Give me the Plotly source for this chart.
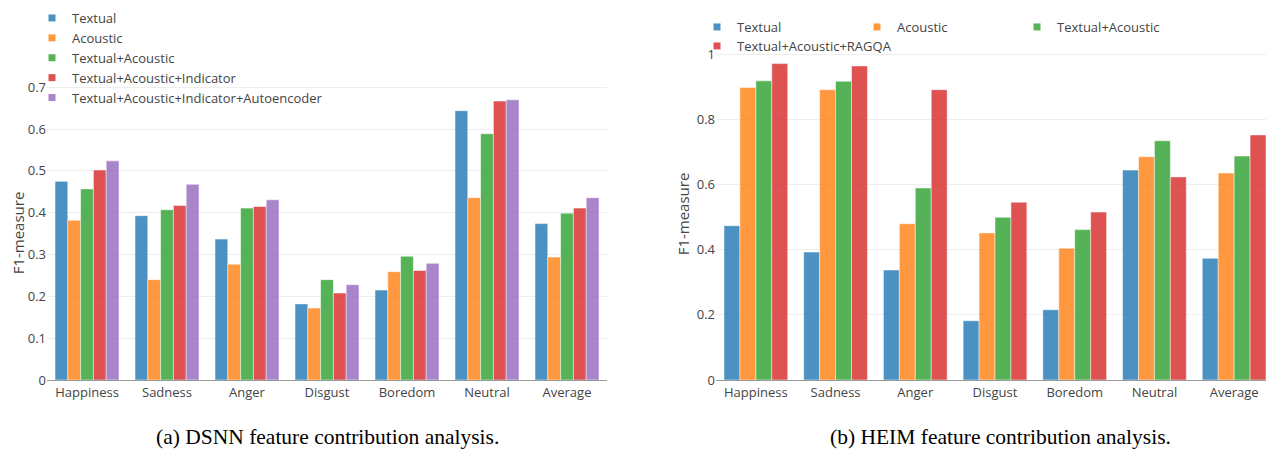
import plotly.graph_objects as go

categories = ["Happiness", "Sadness", "Anger", "Disgust", "Boredom", "Neutral", "Average"]

# Left chart (a) DSNN
dsnn_textual = [0.475, 0.393, 0.337, 0.182, 0.215, 0.644, 0.374]
dsnn_acoustic = [0.382, 0.240, 0.277, 0.172, 0.259, 0.436, 0.294]
dsnn_text_ac = [0.457, 0.407, 0.411, 0.240, 0.296, 0.589, 0.399]
dsnn_text_ac_ind = [0.502, 0.417, 0.415, 0.208, 0.262, 0.667, 0.411]
dsnn_text_ac_ind_ae = [0.524, 0.468, 0.431, 0.228, 0.279, 0.670, 0.436]

# Right chart (b) HEIM
heim_textual = [0.474, 0.393, 0.338, 0.182, 0.216, 0.645, 0.374]
heim_acoustic = [0.899, 0.892, 0.480, 0.452, 0.405, 0.686, 0.636]
heim_text_ac = [0.919, 0.918, 0.590, 0.500, 0.462, 0.735, 0.688]
heim_text_ac_ragqa = [0.972, 0.965, 0.892, 0.546, 0.516, 0.624, 0.753]

left_names = ["Textual", "Acoustic", "Textual+Acoustic", "Textual+Acoustic+Indicator",
              "Textual+Acoustic+Indicator+Autoencoder"]
right_names = ["Textual", "Acoustic", "Textual+Acoustic", "Textual+Acoustic+RAGQA"]
colors = ["#1f77b4", "#ff7f0e", "#2ca02c", "#d62728", "#9467bd"]

# page body has an 8px margin; the figure is sized to fit the window
OFF = 8
W, H = 1274 - OFF, 453 - OFF
fig = go.Figure()

bar_line = dict(color="rgba(255,255,255,0.5)", width=1)

left_series = [dsnn_textual, dsnn_acoustic, dsnn_text_ac, dsnn_text_ac_ind, dsnn_text_ac_ind_ae]
for name, vals, c in zip(left_names, left_series, colors):
    fig.add_trace(go.Bar(x=categories, y=vals, name=name, showlegend=False,
                         marker=dict(color=c, opacity=0.8, line=bar_line),
                         xaxis="x", yaxis="y"))
    fig.add_trace(go.Scatter(x=[None], y=[None], mode="markers", name=name,
                             marker=dict(symbol="square", size=7, color=c, opacity=0.8),
                             xaxis="x", yaxis="y", legend="legend"))

right_series = [heim_textual, heim_acoustic, heim_text_ac, heim_text_ac_ragqa]
right_legends = ["legend2", "legend2", "legend2", "legend3"]
for name, vals, c, lg in zip(right_names, right_series, colors, right_legends):
    fig.add_trace(go.Bar(x=categories, y=vals, name=name, showlegend=False,
                         marker=dict(color=c, opacity=0.8, line=bar_line),
                         xaxis="x2", yaxis="y2"))
    fig.add_trace(go.Scatter(x=[None], y=[None], mode="markers", name=name,
                             marker=dict(symbol="square", size=7, color=c, opacity=0.8),
                             xaxis="x2", yaxis="y2", legend=lg))

font_col = "#444"
tickfont = dict(family="Open Sans", size=13, color=font_col)
legfont = dict(family="Open Sans", size=13, color=font_col)


def fx(p):
    return (p - OFF) / W


def fy(p):
    return (H - (p - OFF)) / H


fig.update_layout(
    width=W, height=H,
    margin=dict(l=0, r=0, t=0, b=0, autoexpand=False),
    paper_bgcolor="white", plot_bgcolor="white",
    barmode="group", bargap=0.2, bargroupgap=0,
    font=dict(family="Open Sans", color=font_col, size=13),
    xaxis=dict(domain=[fx(47), fx(607)], anchor="y", showline=True, linecolor="#999",
               linewidth=1, tickfont=tickfont, showgrid=False, ticks="", automargin=False),
    yaxis=dict(domain=[fy(380), fy(86)], anchor="x", range=[0, 0.703], dtick=0.1,
               tickfont=tickfont, gridcolor="#eee", zeroline=False, automargin=True,
               title=dict(text="F1-measure", standoff=5,
                          font=dict(family="Open Sans", size=15, color=font_col))),
    xaxis2=dict(domain=[fx(716), 1.0], anchor="y2", showline=True, linecolor="#999",
                linewidth=1, tickfont=tickfont, showgrid=False, ticks="", automargin=False),
    yaxis2=dict(domain=[fy(380), fy(48)], anchor="x2", range=[0, 1.02], dtick=0.2,
                tickfont=tickfont, gridcolor="#eee", zeroline=False, automargin=True,
                title=dict(text="F1-measure", standoff=3,
                           font=dict(family="Open Sans", size=15, color=font_col))),
    legend=dict(x=fx(32), xanchor="left", y=fy(3), yanchor="top", orientation="v",
                font=legfont, bgcolor="rgba(0,0,0,0)", tracegroupgap=0),
    legend2=dict(x=fx(697), xanchor="left", y=fy(12), yanchor="top", orientation="h",
                 font=legfont, bgcolor="rgba(0,0,0,0)",
                 entrywidth=115, entrywidthmode="pixels"),
    legend3=dict(x=fx(697), xanchor="left", y=fy(31), yanchor="top", orientation="h",
                 font=legfont, bgcolor="rgba(0,0,0,0)"),
    annotations=[
        dict(text="(a) DSNN feature contribution analysis.", x=fx(327), y=fy(437),
             xref="paper", yref="paper", showarrow=False, xanchor="center", yanchor="middle",
             font=dict(family="Liberation Serif", size=21.5, color="black")),
        dict(text="(b) HEIM feature contribution analysis.", x=fx(1000), y=fy(437),
             xref="paper", yref="paper", showarrow=False, xanchor="center", yanchor="middle",
             font=dict(family="Liberation Serif", size=21.5, color="black")),
    ],
)

fig.write_html("out.html")
